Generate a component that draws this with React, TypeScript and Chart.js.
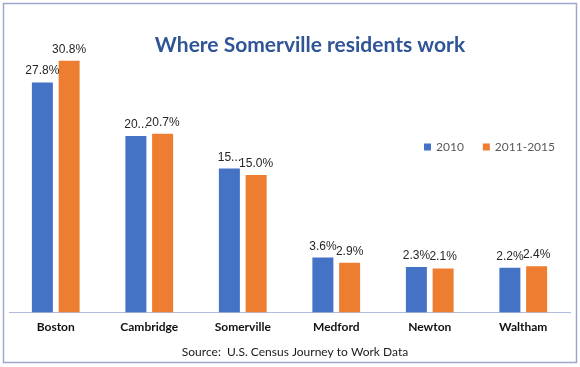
import React, { useEffect, useRef } from "react";
import { Chart, registerables } from "chart.js";

Chart.register(...registerables);

const categories = ["Boston", "Cambridge", "Somerville", "Medford", "Newton", "Waltham"];
const seriesNames = ["2010", "2011-2015"];
const values2010 = [27.8, 20.4, 15.9, 3.6, 2.3, 2.2];
const values2011to2015 = [30.8, 20.7, 15.0, 2.9, 2.1, 2.4];
const shown2010 = ["27.8%", "20...", "15...", "3.6%", "2.3%", "2.2%"];
const shown2011to2015 = ["30.8%", "20.7%", "15.0%", "2.9%", "2.1%", "2.4%"];
const axisMin = -4;
const axisMax = 34.5;
const titleText = "Where Somerville residents work";
const sourceText = "Source:  U.S. Census Journey to Work Data";

const BLUE = "#4472C4";
const ORANGE = "#ED7D31";

const decor = {
  id: "decor",
  beforeDraw(chart: any) {
    const { ctx } = chart;
    ctx.save();
    ctx.fillStyle = "#ffffff";
    ctx.fillRect(0, 0, chart.width, chart.height);
    ctx.strokeStyle = "#9EA8CE";
    ctx.lineWidth = 1.5;
    ctx.strokeRect(3.5, 3.5, 573, 359);
    ctx.restore();
  },
  afterDatasetsDraw(chart: any) {
    const { ctx } = chart;
    const texts = [shown2010, shown2011to2015];
    ctx.save();
    ctx.font = "12px 'Liberation Sans', Arial, sans-serif";
    ctx.fillStyle = "#262626";
    ctx.textAlign = "center";
    ctx.textBaseline = "alphabetic";
    chart.data.datasets.forEach((_ds: any, i: number) => {
      const meta = chart.getDatasetMeta(i);
      meta.data.forEach((bar: any, j: number) => {
        ctx.fillText(texts[i][j], bar.x, bar.y - 8);
      });
    });
    ctx.restore();
  },
  afterDraw(chart: any) {
    const { ctx } = chart;
    ctx.save();
    ctx.font = "bold 21px Lato, sans-serif";
    ctx.fillStyle = "#2F5597";
    ctx.textAlign = "center";
    ctx.textBaseline = "alphabetic";
    ctx.fillText(titleText, 310, 52);
    ctx.font = "12px Lato, sans-serif";
    ctx.fillStyle = "#1a1a1a";
    ctx.textBaseline = "middle";
    ctx.fillText(sourceText, 295, 352);
    ctx.font = "12px Lato, sans-serif";
    ctx.textAlign = "left";
    let x = 424;
    const yc = 147;
    chart.data.datasets.forEach((ds: any) => {
      ctx.fillStyle = ds.backgroundColor;
      ctx.fillRect(x, yc - 3.5, 7, 7);
      ctx.fillStyle = "#595959";
      ctx.fillText(ds.label, x + 12, yc);
      x += 12 + ctx.measureText(ds.label).width + 19;
    });
    ctx.restore();
  },
};

export default function App() {
  const ref = useRef<HTMLCanvasElement>(null);
  useEffect(() => {
    if (!ref.current) return;
    const chart = new Chart(ref.current, {
      type: "bar",
      data: {
        labels: categories,
        datasets: [
          {
            label: seriesNames[0],
            data: values2010,
            backgroundColor: BLUE,
            base: axisMin,
            barPercentage: 0.785,
            categoryPercentage: 0.572,
          } as any,
          {
            label: seriesNames[1],
            data: values2011to2015,
            backgroundColor: ORANGE,
            base: axisMin,
            barPercentage: 0.785,
            categoryPercentage: 0.572,
          } as any,
        ],
      },
      options: {
        responsive: false,
        devicePixelRatio: 1,
        animation: false,
        layout: { padding: { left: 9, right: 10, top: 34, bottom: 26 } },
        plugins: {
          legend: { display: false },
          tooltip: { enabled: false },
          title: { display: false },
        },
        scales: {
          x: {
            grid: { display: false, drawTicks: false },
            border: { display: true, color: "#B1BCDC", width: 1 },
            ticks: {
              font: { family: "Lato", weight: "bold", size: 12 },
              color: "#111111",
              padding: 7,
              maxRotation: 0,
            },
          },
          y: { display: false, min: axisMin, max: axisMax },
        },
      },
      plugins: [decor],
    });
    return () => chart.destroy();
  }, []);
  return (
    <div style={{ position: "fixed", left: 0, top: 0, width: 580, height: 367, background: "#fff" }}>
      <canvas ref={ref} width={580} height={367} style={{ display: "block", width: 580, height: 367 }} />
    </div>
  );
}
